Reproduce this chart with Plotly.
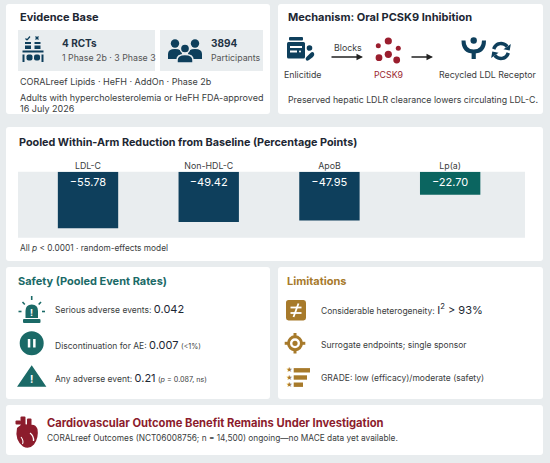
import math
import re

import plotly.graph_objects as go

# canvas size in pixels, everything below is laid out in pixel space
W, H = 550, 463

FONT = "Inter"
PAGE_BG = "#e8ecee"
BOX_BG = "#e9edef"
NAVY = "#0e3f5c"
TEAL_BAR = "#0b6560"
TEAL = "#1b6a67"
GOLD = "#a77a2b"
RED = "#8c1c2c"
INK = "#1d2733"
BODY = "#3a3d40"
TITLE_SIZE = 11

# chart data
categories = ["LDL-C", "Non-HDL-C", "ApoB", "Lp(a)"]
reduction = [-55.78, -49.42, -47.95, -22.70]
bar_colors = [NAVY, NAVY, NAVY, TEAL_BAR]

# headline numbers
n_rcts = 4
n_participants = 3894
sae_rate = "0.042"
disc_rate = "0.007"
any_ae_rate = "0.21"


def fx(x):
    return x / W


def fy(y):
    return 1 - y / H


def path(d):
    # convert "x,y" pixel pairs of an svg path into paper coords
    return re.sub(r"(-?[\d.]+),(-?[\d.]+)",
                  lambda m: f"{fx(float(m.group(1))):.5f},{fy(float(m.group(2))):.5f}", d)


shapes = []
annotations = []


def rect(x0, y0, x1, y1, color, r=0):
    if r:
        d = (f"M {x0 + r},{y0} L {x1 - r},{y0} Q {x1},{y0} {x1},{y0 + r} "
             f"L {x1},{y1 - r} Q {x1},{y1} {x1 - r},{y1} L {x0 + r},{y1} "
             f"Q {x0},{y1} {x0},{y1 - r} L {x0},{y0 + r} Q {x0},{y0} {x0 + r},{y0} Z")
        shapes.append(dict(type="path", path=path(d), xref="paper", yref="paper",
                           fillcolor=color, line=dict(width=0), layer="below"))
    else:
        shapes.append(dict(type="rect", x0=fx(x0), x1=fx(x1), y0=fy(y1), y1=fy(y0),
                           xref="paper", yref="paper", fillcolor=color,
                           line=dict(width=0), layer="below"))


def circle(cx, cy, r, color, line_color=None, line_width=0, fill=True):
    shapes.append(dict(type="circle", x0=fx(cx - r), x1=fx(cx + r), y0=fy(cy + r), y1=fy(cy - r),
                       xref="paper", yref="paper",
                       fillcolor=color if fill else "rgba(0,0,0,0)",
                       line=dict(width=line_width, color=line_color or color), layer="below"))


def shape_path(d, fill=None, line_color=None, line_width=0):
    shapes.append(dict(type="path", path=path(d), xref="paper", yref="paper",
                       fillcolor=fill or "rgba(0,0,0,0)",
                       line=dict(width=line_width, color=line_color or "rgba(0,0,0,0)"),
                       layer="below"))


def line(x0, y0, x1, y1, color, width):
    shapes.append(dict(type="line", x0=fx(x0), x1=fx(x1), y0=fy(y0), y1=fy(y1),
                       xref="paper", yref="paper", line=dict(color=color, width=width),
                       layer="below"))


def text(x, y, s, size=9, color=BODY, bold=False, anchor="left"):
    if bold:
        s = f"<b>{s}</b>"
    annotations.append(dict(x=fx(x), y=fy(y), xref="paper", yref="paper", text=s,
                            showarrow=False, xanchor=anchor, yanchor="middle",
                            font=dict(family=FONT, size=size, color=color)))


def arrow(x0, x1, y):
    annotations.append(dict(x=fx(x1), y=fy(y), xref="paper", yref="paper", text="",
                            showarrow=True, ax=x0 - x1, ay=0, arrowhead=2, arrowsize=1,
                            arrowwidth=1.3, arrowcolor="#222"))


# panels
rect(6, 4, 270, 114, "white", 3)
rect(278, 4, 543, 114, "white", 3)
rect(6, 127, 543, 261, "white", 3)
rect(6, 267, 270, 399, "white", 3)
rect(278, 267, 543, 399, "white", 3)
rect(6, 405, 543, 455, "white", 3)

# ---- Evidence base ----
text(18, 17, "Evidence Base", TITLE_SIZE, INK, True)
rect(18, 30, 155, 71, BOX_BG)
rect(160, 30, 263, 71, BOX_BG)

# trial icon
line(25.5, 38.5, 27, 40, NAVY, 1.2)
line(27, 40, 30, 36.5, NAVY, 1.2)
line(35.5, 36.5, 38.5, 39.5, NAVY, 1.2)
line(38.5, 36.5, 35.5, 39.5, NAVY, 1.2)
rect(25, 42, 31, 44, NAVY)
rect(25, 45.5, 31, 49, NAVY)
rect(34.5, 42, 40.5, 44, NAVY)
rect(34.5, 45.5, 40.5, 49, NAVY)
rect(22.5, 50.5, 43.5, 52.5, NAVY)
rect(22.5, 54.5, 24.5, 62, NAVY)
rect(26.5, 54.5, 32.5, 60.5, NAVY, 2)
rect(34, 54.5, 40, 60.5, NAVY, 2)
rect(41.5, 54.5, 43.5, 62, NAVY)
text(60, 43, f"{n_rcts} RCTs", 10, "#1f3344", True)
text(60, 58, "1 Phase 2b · 3 Phase 3", 8.8, "#555")

# people icon
circle(175, 43.5, 4.2, NAVY)
circle(195, 43.5, 4.2, NAVY)
shape_path("M 168,59 L 168,54 Q 168,49 175,49 Q 182,49 182,54 L 182,59 Z", NAVY)
shape_path("M 188,59 L 188,54 Q 188,49 195,49 Q 202,49 202,54 L 202,59 Z", NAVY)
circle(185, 48.5, 4.6, NAVY, BOX_BG, 1.5)
shape_path("M 177,63 L 177,60 Q 177,54.5 185,54.5 Q 193,54.5 193,60 L 193,63 Z", NAVY, BOX_BG, 1.5)
text(209, 43, f"{n_participants}", 10, "#1f3344", True)
text(209, 58, "Participants", 8.8, "#555")

text(18, 82, "CORALreef Lipids · HeFH · AddOn · Phase 2b", 9, BODY)
text(18, 97, "Adults with hypercholesterolemia or HeFH FDA-approved", 9, BODY)
text(18, 108, "16 July 2026", 9, BODY)

# ---- Mechanism ----
text(286, 17, "Mechanism: Oral PCSK9 Inhibition", TITLE_SIZE, INK, True)
rect(289, 37, 303, 40.5, NAVY, 1)
rect(287, 42, 305, 58.5, NAVY, 1.5)
rect(290, 46, 302, 48, "white")
rect(290, 50.5, 297, 52.5, "white")
circle(300, 51.5, 1, "white")
circle(309.5, 48, 2.8, NAVY)
shape_path("M 306.5,57 L 310.5,53 Q 312.5,51 314,53 Q 315,55 313,57 L 309,60 Q 307,61.5 306,60 Q 305,58.5 306.5,57 Z", NAVY)
text(302, 74, "Enlicitide", 8.8, BODY, anchor="center")

text(348, 48, "Blocks", 8.8, BODY, anchor="center")
arrow(330, 363, 57)

for cx, cy, r in [(388.3, 41, 3.6), (378.3, 45.7, 2.5), (398.3, 48.3, 2.5),
                  (388.3, 54.3, 3.6), (379, 57.7, 3.4), (396.7, 60, 3.4)]:
    circle(cx, cy, r, "#9a1e2e")
text(388, 74, "PCSK9", 8.8, "#9a1e2e", anchor="center")
arrow(410, 433, 57)

# receptor + recycle icons
shape_path("M 463.5,40.5 Q 463.5,51.5 473.7,51.5 Q 484,51.5 484,40.5", None, NAVY, 4)
rect(471.6, 51, 475.8, 59, NAVY)
circle(473.7, 40.5, 3.2, NAVY)
cx, cy, rr = 501, 51, 7.5
for t0, t1 in [(165, 35), (-15, -145)]:
    pts = []
    for k in range(13):
        t = math.radians(t0 + (t1 - t0) * k / 12)
        pts.append((cx + rr * math.cos(t), cy - rr * math.sin(t)))
    d = "M " + " L ".join(f"{px:.2f},{py:.2f}" for px, py in pts)
    shape_path(d, None, NAVY, 3.5)
    te = math.radians(t1)
    dx, dy = math.sin(te), math.cos(te)
    nx, ny = math.cos(te), -math.sin(te)
    ex, ey = pts[-1]
    tri = (f"M {ex + 4.5 * dx:.2f},{ey + 4.5 * dy:.2f} L {ex + 4.5 * nx:.2f},{ey + 4.5 * ny:.2f} "
           f"L {ex - 4.5 * nx:.2f},{ey - 4.5 * ny:.2f} Z")
    shape_path(tri, NAVY)
text(487, 74, "Recycled LDL Receptor", 8.8, BODY, anchor="center")
text(286, 99, "Preserved hepatic LDLR clearance lowers circulating LDL-C.", 8.8, BODY)

# ---- Pooled reduction chart ----
text(17, 142, "Pooled Within-Arm Reduction from Baseline (Percentage Points)", 10.8, INK, True)
rect(18, 171.7, 525, 237.7, BOX_BG)
text(18, 248, "All <i>p</i> < 0.0001 · random-effects model", 8.3, BODY)

# ---- Safety ----
text(16, 281, "Safety (Pooled Event Rates)", TITLE_SIZE, TEAL, True)
line(31.7, 296, 31.7, 300, TEAL, 1.6)
line(22.5, 302, 24.8, 304.5, TEAL, 1.6)
line(41, 302, 38.7, 304.5, TEAL, 1.6)
line(18.5, 311.5, 21.5, 311.5, TEAL, 1.6)
line(42, 311.5, 45, 311.5, TEAL, 1.6)
shape_path("M 25.5,318 L 25.5,311 Q 25.5,304.5 31.75,304.5 Q 38,304.5 38,311 L 38,318 Z", TEAL)
rect(23, 319, 40.5, 323, TEAL, 1)
text(31.75, 312, "!", 9, "white", True, "center")
text(53, 309, f"Serious adverse events: <span style='font-size:11px;color:#1d2733'>{sae_rate}</span>", 8.5, BODY)

circle(31.7, 343.3, 12, TEAL)
rect(27.8, 339, 30.3, 347.5, "white")
rect(33.1, 339, 35.6, 347.5, "white")
text(53, 345, f"Discontinuation for AE: <span style='font-size:11px;color:#1d2733'>{disc_rate}</span>"
     " <span style='font-size:7.2px'>(&lt;1%)</span>", 8.5, BODY)

shape_path("M 31.7,367.5 L 44,385.5 L 19.4,385.5 Z", TEAL, TEAL, 2.5)
text(31.7, 379, "!", 10, "white", True, "center")
text(53, 378, f"Any adverse event: <span style='font-size:11px;color:#1d2733'>{any_ae_rate}</span>"
     " <span style='font-size:7.2px'>(<i>p</i> = 0.087, ns)</span>", 8.5, BODY)

# ---- Limitations ----
text(285, 281, "Limitations", TITLE_SIZE, GOLD, True)
rect(286, 300, 306, 320.5, GOLD, 2.5)
# not-equal sign drawn as strokes so it keeps its weight
line(290.5, 307.5, 301.5, 307.5, "white", 1.8)
line(290.5, 313, 301.5, 313, "white", 1.8)
line(298.5, 303.5, 293.5, 317, "white", 1.8)
text(319, 309, "Considerable heterogeneity: <span style='font-size:11px;color:#1d2733'>I<sup>2</sup> &gt; 93%</span>", 8.5, BODY)

circle(295, 343.3, 6.5, GOLD, GOLD, 3, fill=False)
circle(295, 343.3, 2.6, GOLD)
line(295, 333, 295, 336.5, GOLD, 3)
line(295, 350, 295, 353.5, GOLD, 3)
line(284.7, 343.3, 288.2, 343.3, GOLD, 3)
line(301.8, 343.3, 305.3, 343.3, GOLD, 3)
text(319, 345, "Surrogate endpoints; single sponsor", 8.5, BODY)

for yy, x_end in [(370.3, 310), (377.5, 307), (384.7, 303)]:
    text(289, yy, "★", 6.5, GOLD, anchor="center")
    rect(293.7, yy - 2.2, x_end, yy + 2.2, GOLD)
text(319, 378, "GRADE: low (efficacy)/moderate (safety)", 8.5, BODY)

# ---- Outcomes banner ----
rect(20.5, 416.5, 25.5, 429, RED, 1)
rect(27, 418.5, 31.5, 428, RED, 1)
rect(15.5, 420.5, 21, 424.5, RED, 1)
shape_path("M 17,428 Q 14.5,440 23,446.5 Q 29,450 34,444.5 Q 39,437.5 37.5,429 "
           "Q 35.5,423.5 29.5,425 Q 22,422.5 17,428 Z", RED)
shape_path("M 30,433 Q 34,436 33.5,441", None, "white", 1.3)
shape_path("M 21,437 Q 24,441 22.5,444", None, "white", 1.1)
text(45, 423, "Cardiovascular Outcome Benefit Remains Under Investigation", 11.2, RED, True)
text(45, 438, "CORALreef Outcomes (NCT06008756; n = 14,500) ongoing—no MACE data yet available.", 8.3, BODY)

fig = go.Figure()
fig.add_trace(go.Bar(
    x=categories, y=reduction, width=0.5,
    marker=dict(color=bar_colors, line=dict(width=0)),
    text=[f"−{abs(v):.2f}" for v in reduction],
    textposition="inside", insidetextanchor="start",
    textfont=dict(family=FONT, size=11, color="white"),
    hoverinfo="skip",
))

fig.update_layout(
    width=W, height=H,
    margin=dict(l=0, r=0, t=0, b=0),
    paper_bgcolor=PAGE_BG,
    plot_bgcolor="rgba(0,0,0,0)",
    showlegend=False,
    font=dict(family=FONT, color=BODY),
    xaxis=dict(domain=[fx(18), fx(525)], range=[-0.58, 3.62], side="top",
               showgrid=False, zeroline=False, showline=False, ticks="",
               tickfont=dict(family=FONT, size=8.8, color=BODY), fixedrange=True),
    yaxis=dict(domain=[fy(237.7), fy(171.7)], range=[-65, 0], visible=False,
               fixedrange=True),
    shapes=shapes,
    annotations=annotations,
)

# drop the default page margin so the figure sits at the window's top-left corner
fig.write_html("out.html", config={"displayModeBar": False},
               post_script="document.body.style.margin='0';document.body.style.overflow='hidden';")
